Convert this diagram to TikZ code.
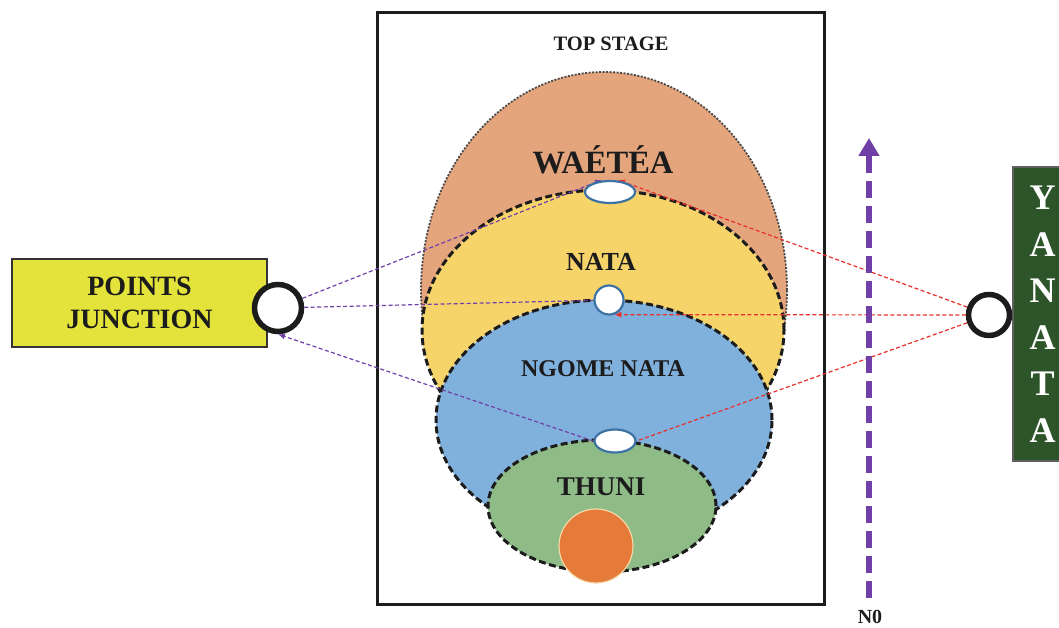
\documentclass[tikz,border=0pt]{standalone}
\usepackage{fontspec}
\setmainfont{Liberation Serif}
\usetikzlibrary{shapes.geometric, arrows.meta}
\definecolor{skinorange}{HTML}{E4A47C}
\definecolor{natayellow}{HTML}{F6D46A}
\definecolor{ngomeblue}{HTML}{80B0DC}
\definecolor{thunigreen}{HTML}{8EBB86}
\definecolor{coreorange}{HTML}{E67A38}
\definecolor{corerim}{HTML}{F3D9A8}
\definecolor{jointblue}{HTML}{3D72A4}
\definecolor{pjyellow}{HTML}{E3E33B}
\definecolor{yanatagreen}{HTML}{2E5429}
\definecolor{linkviolet}{HTML}{7040A8}
\definecolor{linkred}{HTML}{E8302A}
\definecolor{inkgray}{HTML}{1C1C1C}
\pgfdeclarelayer{front}
\pgfsetlayers{main,front}

\begin{document}
\begin{tikzpicture}[
		x=1pt, y=-1pt,
		>={Latex[length=7pt,width=6pt]},
		layer/.style={draw=inkgray, ellipse, inner sep=0pt, line width=3pt, dash pattern=on 7pt off 3.5pt},
		joint/.style={draw=jointblue, fill=white, ellipse, inner sep=0pt, line width=2.2pt},
		hub/.style={draw=inkgray, fill=white, circle, inner sep=0pt, line width=5.5pt},
		title/.style={font=\bfseries, text=inkgray, inner sep=0pt},
		violetlink/.style={draw=linkviolet, line width=1.2pt, dash pattern=on 4pt off 2.5pt},
		redlink/.style={draw=linkred, line width=1.2pt, dash pattern=on 4pt off 2.5pt},
	]
	\useasboundingbox (0,0) rectangle (1059,628);

	% stage frame
	\node[draw=inkgray, line width=3pt, minimum width=447, minimum height=591, inner sep=0pt] (stage) at (600.5,308.5) {};
	\node[title, font=\bfseries\fontsize{20.5}{24}\selectfont] (topstage) at (611,44) {TOP STAGE};

	% nested layers
	\node[ellipse, fill=skinorange, draw=inkgray!80, line width=1.8pt, dash pattern=on 2pt off 1.5pt, minimum width=366, minimum height=436, inner sep=0pt] (waetea) at (604,290) {};
	\node[layer, fill=natayellow, minimum width=362, minimum height=280] (nata) at (603,330) {};
	\node[layer, fill=ngomeblue, minimum width=336, minimum height=240] (ngome) at (604,420) {};
	\node[layer, fill=thunigreen, minimum width=228, minimum height=132] (thuni) at (602,506) {};
	\node[circle, fill=coreorange, draw=corerim, line width=1.2pt, minimum size=74, inner sep=0pt] (core) at (596,546) {};

	\node[title, font=\bfseries\fontsize{32.5}{36}\selectfont] (waetea_txt) at (603,160) {WAÉTÉA};
	\node[title, font=\bfseries\fontsize{26}{30}\selectfont] (nata_txt) at (601,262) {NATA};
	\node[title, font=\bfseries\fontsize{24}{28}\selectfont] (ngome_txt) at (603,369) {NGOME NATA};
	\node[title, font=\bfseries\fontsize{27}{30}\selectfont] (thuni_txt) at (601,487) {THUNI};

	% side boxes
	\node[draw=inkgray!90, fill=pjyellow, line width=1.2pt, minimum width=255, minimum height=88, align=center, font=\bfseries\fontsize{28}{33}\selectfont, text=inkgray] (points) at (139.5,303) {POINTS\\JUNCTION};
	\node[draw=inkgray!70, fill=yanatagreen, line width=1.2pt, minimum width=59, minimum height=294, align=center, font=\bfseries\fontsize{36}{46.5}\selectfont, text=white] (yanata) at (1042.5,314) {Y\\A\\N\\A\\T\\A};

	% junction points
	\node[hub, minimum size=47] (jl) at (278,308) {};
	\node[hub, minimum size=41] (jr) at (989,315) {};
	\begin{pgfonlayer}{front}
		\node[joint, minimum width=50, minimum height=22] (wtop) at (610,192) {};
		\node[joint, circle, minimum size=29] (wmid) at (609,300) {};
		\node[joint, minimum width=41, minimum height=23] (wbot) at (615,441) {};
	\end{pgfonlayer}

	\draw[violetlink, ->] (jl) -- ([xshift=-8pt]wtop.north);
	\draw[violetlink] (jl) -- (wmid);
	\draw[violetlink, ->] (wbot.west) -- (jl.south);
	\draw[redlink, ->] (jr) -- ([xshift=8pt]wtop.north);
	\draw[redlink, ->] (jr) -- (wmid.-70);
	\draw[redlink] (jr) -- (wbot.east);

	% N0 direction
	\node[title, font=\bfseries\fontsize{20}{24}\selectfont] (n0) at (870,617) {N0};
	\coordinate (n0_base) at (869,598);
	\coordinate (n0_tip) at (869,138);
	\draw[linkviolet, line width=6pt, dash pattern=on 17pt off 8pt, -{Triangle[length=18pt,width=20pt]}] (n0_base) -- (n0_tip);
\end{tikzpicture}
\end{document}
